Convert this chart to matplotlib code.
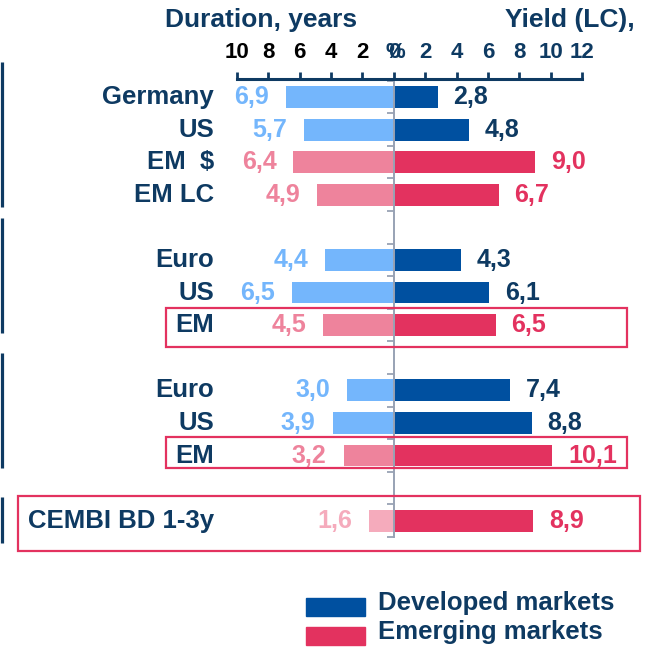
import matplotlib.pyplot as plt
from matplotlib.patches import Rectangle

plt.rcParams['font.family'] = ['Liberation Sans', 'DejaVu Sans']
plt.rcParams['font.weight'] = 'bold'

# data
categories = ["Germany", "US", "EM  $", "EM LC",
              "Euro", "US", "EM",
              "Euro", "US", "EM",
              "CEMBI BD 1-3y"]
group_sizes = [4, 3, 3, 1]
duration = [6.9, 5.7, 6.4, 4.9, 4.4, 6.5, 4.5, 3.0, 3.9, 3.2, 1.6]
yields = [2.8, 4.8, 9.0, 6.7, 4.3, 6.1, 6.5, 7.4, 8.8, 10.1, 8.9]
market = ["DM", "DM", "EM", "EM", "DM", "DM", "EM", "DM", "DM", "EM", "CB"]
boxed = [False, False, False, False, False, False, True, False, False, True, True]
left_ticks = [10, 8, 6, 4, 2, 0]
right_ticks = [2, 4, 6, 8, 10, 12]
legend_labels = ["Developed markets", "Emerging markets"]

NAVY = "#0e3a62"
GREY = "#98a2b4"
left_col = {"DM": "#74b6fc", "EM": "#ee839c", "CB": "#f5abbc"}
right_col = {"DM": "#0050a0", "EM": "#e3325f", "CB": "#e3325f"}
right_txt = {"DM": NAVY, "EM": "#e3325f", "CB": "#e3325f"}
BOX = "#e3325f"

# slot of each row: one empty slot between groups
slots = []
s = 0
for g in group_sizes:
    slots.extend(range(s, s + g))
    s += g + 1
nslots = s - 1

W, H = 645, 647
fig = plt.figure(figsize=(W / 100, H / 100), dpi=100)
x0, x1 = 237, 582
y0, y1 = 80.7, 537
ax = fig.add_axes([x0 / W, 1 - y1 / H, (x1 - x0) / W, (y1 - y0) / H])
ax.set_xlim(-10, 12)
ax.set_ylim(nslots - 0.5, -0.5)


def py(p):
    # pixel row -> data y
    return -0.5 + (p - y0) / ((y1 - y0) / nslots)


def px(p):
    # pixel column -> data x
    return -10 + (p - x0) / ((x1 - x0) / 22)


bh = 0.67
for i, sl in enumerate(slots):
    m = market[i]
    ax.barh(sl, -duration[i], height=bh, color=left_col[m], zorder=1)
    ax.barh(sl, yields[i], height=bh, color=right_col[m], zorder=1)
    ax.text(-duration[i] - 1.08, sl, f"{duration[i]:.1f}".replace(".", ","),
            ha="right", va="center", fontsize=18, color=left_col[m], clip_on=False)
    ax.text(yields[i] + 1.0, sl, f"{yields[i]:.1f}".replace(".", ","),
            ha="left", va="center", fontsize=18, color=right_txt[m], clip_on=False)
    ax.text(px(214), sl, categories[i], ha="right", va="center", fontsize=18.5,
            color=NAVY, clip_on=False)

# boxes around EM rows (pixel extents)
boxes = [(166, 627, 308, 347), (166, 627, 437, 468), (18, 640, 496, 551)]
for xa, xb, ya, yb in boxes:
    ax.add_patch(Rectangle((px(xa), py(ya)), px(xb) - px(xa), py(yb) - py(ya),
                           fill=False, edgecolor=BOX, lw=1.6, clip_on=False, zorder=3))

# group brackets on the far left
brackets = [(62, 207), (218, 333), (353, 468), (497, 543)]
for ta, tb in brackets:
    ax.plot([px(1.5), px(1.5)], [py(ta), py(tb)], color=NAVY, lw=2.3,
            clip_on=False, solid_capstyle="butt")

# axes styling
for side in ["bottom", "right"]:
    ax.spines[side].set_visible(False)
ax.spines["left"].set_position(("data", 0))
ax.spines["left"].set_color(GREY)
ax.spines["left"].set_linewidth(1.4)
ax.spines["top"].set_color(NAVY)
ax.spines["top"].set_linewidth(2.2)
ax.spines["top"].set_position(("outward", 1.5))

ax.set_yticks([k - 0.5 for k in range(nslots + 1)])
ax.set_yticklabels([])
ax.tick_params(axis="y", direction="out", length=5, width=1.3, color=GREY)

xt = [-v for v in left_ticks] + right_ticks
ax.xaxis.tick_top()
ax.set_xticks(xt)
ax.set_xticklabels([str(v) for v in left_ticks] + [str(v) for v in right_ticks],
                   fontsize=16, fontweight="bold")
ax.tick_params(axis="x", direction="out", length=5, width=2, color=NAVY, pad=6)
for lab, v in zip(ax.get_xticklabels(), xt):
    lab.set_color("black" if v < 0 else NAVY)
ax.get_xticklabels()[5].set_color(NAVY)
ax.text(0.1, py(52), "%", ha="center", va="center", fontsize=16, color=NAVY,
        clip_on=False)

fig.text(261 / W, 1 - 20 / H, "Duration, years", ha="center", va="center",
         fontsize=19, color=NAVY)
fig.text(570 / W, 1 - 20 / H, "Yield (LC),", ha="center", va="center",
         fontsize=19, color=NAVY)

# legend
for k, lab in enumerate(legend_labels):
    yc = 607 + 29 * k
    col = right_col["DM"] if k == 0 else right_col["EM"]
    fig.add_artist(Rectangle((306 / W, 1 - (yc + 9) / H), 59 / W, 18 / H,
                             transform=fig.transFigure, color=col))
    fig.text(378 / W, 1 - (yc - 4) / H, lab, ha="left", va="center",
             fontsize=18.5, color=NAVY)

fig.savefig("out.png", dpi=100)
